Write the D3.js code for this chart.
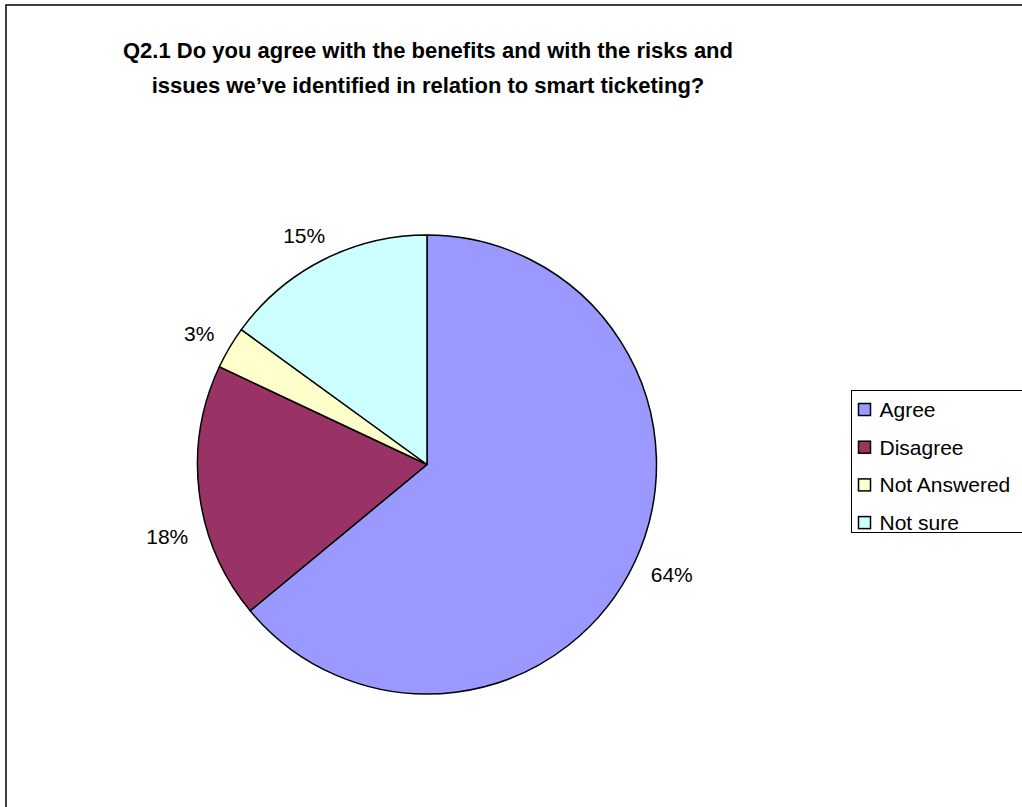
<!DOCTYPE html>
<html>
<head>
<meta charset="utf-8">
<script src="https://cdn.jsdelivr.net/npm/d3@7"></script>
<style>
  html, body { margin: 0; padding: 0; background: #fff; }
  svg { display: block; font-family: "Liberation Sans", Arial, sans-serif; }
</style>
</head>
<body>
<svg id="chart" width="1022" height="807"></svg>
<script>
// Survey responses, Q2.1 (percent of respondents)
const categories = ["Agree", "Disagree", "Not Answered", "Not sure"];
const shares = [64, 18, 3, 15];
const sliceColors = ["#9999FF", "#993366", "#FFFFCC", "#CCFFFF"];
const titleLines = [
  "Q2.1 Do you agree with the benefits and with the risks and",
  "issues we\u2019ve identified in relation to smart ticketing?"
];
// per-label rotation (degrees) around the rim, to keep labels clear of each other
const labelTurn = [0, -9, 0, 0];

const svg = d3.select("#chart");
const W = 1022, H = 807;

// outer chart frame (runs off the right and bottom edges)
svg.append("rect")
  .attr("x", 6).attr("y", 5)
  .attr("width", W + 10).attr("height", H + 10)
  .attr("fill", "#fff")
  .attr("stroke", "#000")
  .attr("stroke-width", 1.5);

// title
svg.append("g").selectAll("text")
  .data(titleLines)
  .join("text")
  .attr("x", 428)
  .attr("y", (d, i) => 58 + i * 35)
  .attr("text-anchor", "middle")
  .attr("font-size", 22)
  .attr("font-weight", "bold")
  .attr("fill", "#000")
  .text(d => d);

// pie
const cx = 427, cy = 464.5, R = 229.5;
const data = categories.map((c, i) => ({ name: c, value: shares[i], color: sliceColors[i], turn: labelTurn[i] }));
const pie = d3.pie().value(d => d.value).sort(null);
const arcs = pie(data);
const arc = d3.arc().innerRadius(0).outerRadius(R);

const g = svg.append("g").attr("transform", `translate(${cx},${cy})`);
g.selectAll("path")
  .data(arcs)
  .join("path")
  .attr("d", arc)
  .attr("fill", d => d.data.color)
  .attr("stroke", "#000")
  .attr("stroke-width", 1.5)
  .attr("stroke-linejoin", "round");

// percentage labels, boxed just outside the rim along each slice's mid-angle
const labelFont = 21, gap = 20;
g.selectAll("text.pct")
  .data(arcs)
  .join("text")
  .attr("class", "pct")
  .attr("font-size", labelFont)
  .attr("fill", "#000")
  .attr("text-anchor", "middle")
  .attr("dy", "0.36em")
  .text(d => d3.format(".0f")(d.data.value) + "%")
  .each(function(d) {
    const a = (d.startAngle + d.endAngle) / 2 + d.data.turn * Math.PI / 180;
    const w = this.getComputedTextLength();
    const h = labelFont * 0.72;
    const s = Math.sin(a), c = Math.cos(a);
    const px = s * (R + gap), py = -c * (R + gap);
    d3.select(this)
      .attr("x", px + s * w / 2)
      .attr("y", py - c * h / 2);
  });

// legend
const lg = svg.append("g");
const lx = 851.5, ly = 390.5, rowH = 37.7;
lg.append("rect")
  .attr("x", lx).attr("y", ly)
  .attr("width", 200).attr("height", 142)
  .attr("fill", "#fff")
  .attr("stroke", "#000")
  .attr("stroke-width", 1);
const rows = lg.selectAll("g.item")
  .data(data)
  .join("g")
  .attr("class", "item")
  .attr("transform", (d, i) => `translate(${lx}, ${ly + 19 + i * rowH})`);
rows.append("rect")
  .attr("x", 7).attr("y", -6)
  .attr("width", 12).attr("height", 12)
  .attr("fill", d => d.color)
  .attr("stroke", "#000")
  .attr("stroke-width", 1.5);
rows.append("text")
  .attr("x", 28)
  .attr("dy", "0.36em")
  .attr("font-size", labelFont)
  .attr("fill", "#000")
  .text(d => d.name);
</script>
</body>
</html>
